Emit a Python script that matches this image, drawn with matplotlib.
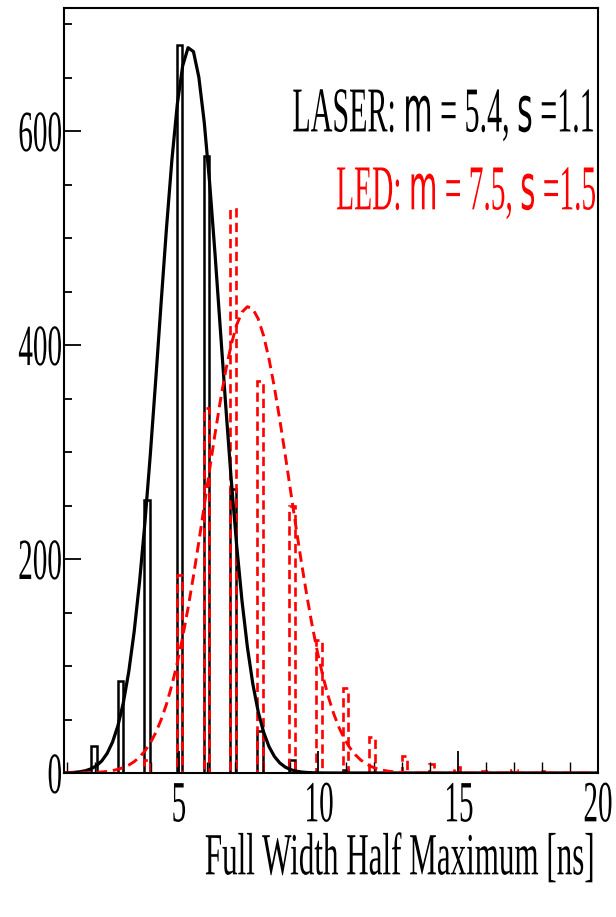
import numpy as np
import matplotlib.pyplot as plt
from matplotlib import patheffects
from matplotlib.transforms import Affine2D

plt.rcParams['font.family'] = ['Liberation Serif', 'DejaVu Serif']
plt.rcParams['mathtext.fontset'] = 'custom'
plt.rcParams['mathtext.rm'] = 'Liberation Serif'
plt.rcParams['mathtext.sf'] = 'DejaVu Sans'

# FWHM bin centres [ns] and entries (0.2 ns bins, empty bins left out)
laser_x = [1.97, 2.92, 3.86, 5.03, 6.0, 6.94, 7.9, 9.05, 10.97]
laser_n = [25, 86, 255, 680, 577, 265, 39, 12, 3]

led_x = [3.86, 5.03, 6.0, 6.94, 7.9, 9.05, 10.02, 10.97, 11.92, 13.08, 14.04, 14.96, 15.95, 17.0, 17.98]
led_n = [12, 185, 341, 527, 366, 250, 124, 79, 34, 16, 8, 6, 2, 3, 2]

bin_w = 0.2

# gaussian fits: amplitude, mean, sigma
laser_fit = (679, 5.4, 1.1)
led_fit = (436, 7.5, 1.5)

x_lo, x_hi = 0.9, 20.0
y_hi = 715


class Squeeze(patheffects.AbstractPathEffect):
    """Narrow the glyphs horizontally, keeping the given anchor fixed."""

    def __init__(self, sx=0.5, anchor=0.5):
        super().__init__()
        self.sx = sx
        self.anchor = anchor

    def draw_path(self, renderer, gc, tpath, affine, rgbFace=None):
        ext = tpath.get_extents()
        x0 = ext.x0 + self.anchor * ext.width
        narrow = Affine2D().translate(-x0, 0).scale(self.sx, 1).translate(x0, 0)
        renderer.draw_path(gc, tpath, narrow + affine, rgbFace)


def outline(centers, counts):
    edges = [x_lo]
    vals = []
    for c, n in zip(centers, counts):
        edges += [c - bin_w / 2, c + bin_w / 2]
        vals += [0, n]
    edges.append(x_hi)
    vals.append(0)
    return np.array(vals), np.array(edges)


def gaus(x, a, m, s):
    return a * np.exp(-0.5 * ((x - m) / s) ** 2)


fig = plt.figure(figsize=(6.16, 9.17), dpi=100)
ax = fig.add_axes([64 / 616, 1 - 773 / 917, 534 / 616, 765 / 917])

xf = np.linspace(x_lo, x_hi, 100)

v, e = outline(laser_x, laser_n)
ax.stairs(v, e, color='black', lw=1.8)
ax.plot(xf, gaus(xf, *laser_fit), color='black', lw=2.3)

v, e = outline(led_x, led_n)
ax.stairs(v, e, color='red', lw=1.9, linestyle=(0, (3.5, 2)))
ax.plot(xf, gaus(xf, *led_fit), color='red', lw=2.1, linestyle=(0, (3.6, 2)))

ax.set_xlim(x_lo, x_hi)
ax.set_ylim(0, y_hi)

ax.set_xticks([5, 10, 15, 20])
ax.set_xticks(np.arange(1, 21), minor=True)
ax.set_yticks([0, 200, 400, 600])
ax.set_yticks(np.arange(0, 701, 50), minor=True)
ax.tick_params(which='both', direction='in', top=False, right=False)
ax.tick_params(axis='x', which='major', length=16, width=1.3, pad=6, labelsize=42)
ax.tick_params(axis='x', which='minor', length=8, width=1.0)
ax.tick_params(axis='y', which='major', length=12, width=1.3, pad=0.5, labelsize=42)
ax.tick_params(axis='y', which='minor', length=6, width=1.3)
for sp in ax.spines.values():
    sp.set_linewidth(1.5)

for lab in ax.get_xticklabels():
    lab.set_path_effects([Squeeze(0.5, 0.5)])
for lab in ax.get_yticklabels():
    lab.set_path_effects([Squeeze(0.5, 1.0)])

ax.set_xlabel('Full Width Half Maximum [ns]', loc='right', fontsize=43, labelpad=0)
ax.xaxis.label.set_path_effects([Squeeze(0.52, 1.0)])

ax.text(0.994, 0.838, r'LASER: $\mathsf{m}$ = 5.4, $\mathsf{s}$ =1.1', transform=ax.transAxes,
        ha='right', va='baseline', fontsize=46, color='black',
        path_effects=[Squeeze(0.47, 1.0)])
ax.text(0.998, 0.736, r'LED: $\mathsf{m}$ = 7.5, $\mathsf{s}$ =1.5', transform=ax.transAxes,
        ha='right', va='baseline', fontsize=46, color='red',
        path_effects=[Squeeze(0.46, 1.0)])

fig.savefig('out.png', dpi=100)
